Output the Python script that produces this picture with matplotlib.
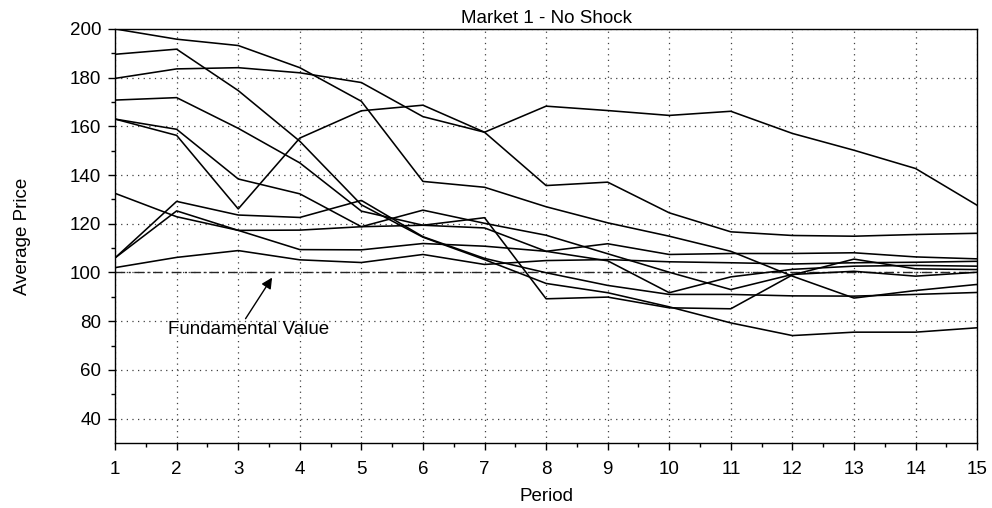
import numpy as np
import matplotlib
matplotlib.use("Agg")
import matplotlib.pyplot as plt

# Durchschnittspreise je Periode
periods = np.arange(1, 16)

session_a = [200, 195.8, 193.2, 184.1, 170.3, 137.4, 135, 127, 120.4, 114.9, 108.7, 98.5, 89.5, 92.6, 95.1]
session_b = [189.6, 191.7, 174.7, 153.9, 127.8, 114.5, 105.3, 95.5, 91.7, 85.9, 79.3, 74.1, 75.5, 75.5, 77.3]
session_c = [179.7, 183.6, 184.1, 182, 178, 164, 157.6, 135.7, 137.1, 124.5, 116.7, 115.2, 114.9, 115.6, 116.1]
session_d = [170.8, 171.8, 159.2, 145, 125.2, 119.4, 118.3, 108.7, 104.8, 91.7, 98.2, 101.3, 102.6, 102.9, 102.6]
session_e = [163, 158.8, 138.4, 132.3, 118.8, 125.6, 120.2, 115.3, 107.7, 100.1, 93, 99.2, 100.5, 98.5, 100.1]
session_f = [163, 156.3, 126.1, 155.2, 166.4, 168.7, 157.6, 168.3, 166.5, 164.5, 166.2, 157.1, 150.2, 142.7, 127.6]
session_g = [132.5, 122.9, 117.3, 117.4, 118.8, 119.4, 122.5, 89.2, 89.9, 85.5, 85.1, 99, 105.5, 101.5, 101.2]
session_h = [106, 129.2, 123.6, 122.6, 129.6, 114.7, 105.8, 99.9, 94.7, 91, 91, 90.4, 90.3, 91, 91.8]
session_i = [106, 125.3, 117.3, 109.4, 109.3, 111.9, 110.8, 108.7, 111.8, 107.4, 107.8, 107.8, 108.1, 106.4, 105.6]
session_j = [102, 106.2, 109, 105.2, 104.1, 107.4, 103.3, 104.9, 105.3, 104.4, 104, 103.5, 104, 104.2, 104.6]

sessions = [session_a, session_b, session_c, session_d, session_e,
            session_f, session_g, session_h, session_i, session_j]

fundamental_value = 100
y_ticks = np.arange(40, 201, 20)

plt.rcParams['font.family'] = ['Liberation Sans', 'DejaVu Sans']

fig = plt.figure(figsize=(9.92, 5.08), dpi=100)
ax = fig.add_axes([0.116, 0.128, 0.869, 0.815])

# Gitter (gepunktet)
for yt in y_ticks:
    ax.axhline(yt, color='0.25', lw=0.9, ls=(0, (1, 3.5)), zorder=1)
for xt in periods:
    ax.axvline(xt, color='0.25', lw=0.9, ls=(0, (1, 3.5)), zorder=1)

# Fundamentalwert
ax.axhline(fundamental_value, color='0.15', lw=1.0, ls=(0, (7, 2.5, 1.5, 2.5)), zorder=2)

for s in sessions:
    ax.plot(periods, s, color='black', lw=1.15, zorder=3)

ax.annotate('Fundamental Value', xy=(3.55, 97.9), xytext=(1.86, 76.4),
            fontsize=13.5, ha='left', va='center',
            arrowprops=dict(arrowstyle='-|>', color='black', lw=1.0,
                            mutation_scale=16, shrinkA=0, shrinkB=0,
                            relpos=(0.47, 1.0)))

ax.set_xlim(1, 15)
ax.set_ylim(30, 200)
ax.set_xticks(periods)
ax.set_xticks(np.arange(1.5, 15, 1), minor=True)
ax.set_yticks(y_ticks)
ax.set_yticks(np.arange(50, 200, 20), minor=True)
ax.tick_params(axis='both', which='major', direction='out', length=5, width=1, labelsize=13.5)
ax.tick_params(axis='x', which='major', pad=8)
ax.tick_params(axis='y', which='major', pad=5)
ax.tick_params(axis='both', which='minor', direction='out', length=3, width=1)

for sp in ax.spines.values():
    sp.set_linewidth(1.0)

ax.set_title('Market 1 - No Shock', fontsize=13.5, pad=4)
ax.set_xlabel('Period', fontsize=13.5, labelpad=7)
ax.set_ylabel('Average Price', fontsize=13.5, labelpad=28)

fig.savefig('out.png', dpi=100)
